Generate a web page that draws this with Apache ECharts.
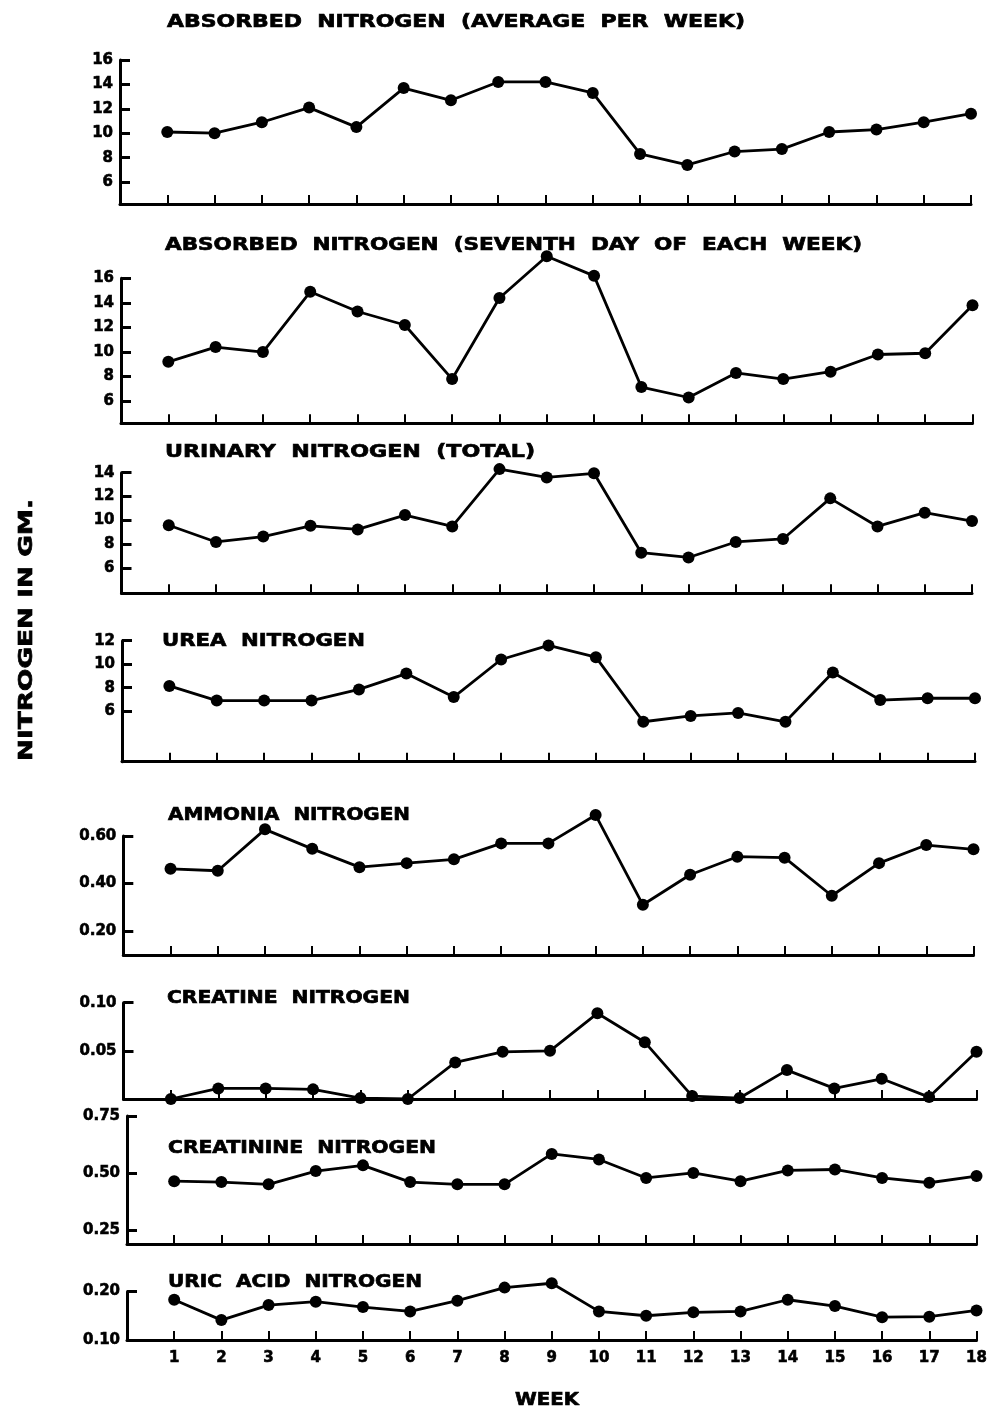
<!DOCTYPE html>
<html>
<head>
<meta charset="utf-8">
<script src="https://cdn.jsdelivr.net/npm/echarts@6/dist/echarts.min.js"></script>
<style>
  html, body { margin: 0; padding: 0; background: #fff; }
  #chart { width: 993px; height: 1414px; }
</style>
</head>
<body>
<div id="chart"></div>
<script>
// Weekly nitrogen balance, grams per day, weeks 1-18
const weeks = [1, 2, 3, 4, 5, 6, 7, 8, 9, 10, 11, 12, 13, 14, 15, 16, 17, 18];

const absorbedAvg   = [10.1, 10.0, 10.9, 12.1, 10.5, 13.7, 12.7, 14.2, 14.2, 13.3, 8.3, 7.4, 8.5, 8.7, 10.1, 10.3, 10.9, 11.6];
const absorbedDay7  = [9.2, 10.4, 10.0, 14.9, 13.3, 12.2, 7.8, 14.4, 17.8, 16.2, 7.15, 6.3, 8.3, 7.8, 8.4, 9.8, 9.9, 13.8];
const urinaryTotal  = [9.6, 8.2, 8.65, 9.55, 9.25, 10.45, 9.5, 14.3, 13.6, 13.95, 7.3, 6.9, 8.2, 8.45, 11.85, 9.5, 10.65, 9.95];
const ureaN         = [8.15, 6.9, 6.9, 6.9, 7.85, 9.2, 7.2, 10.4, 11.6, 10.6, 5.1, 5.6, 5.85, 5.1, 9.3, 6.95, 7.1, 7.1];
const ammoniaN      = [0.462, 0.454, 0.628, 0.546, 0.469, 0.486, 0.502, 0.569, 0.569, 0.688, 0.311, 0.437, 0.513, 0.509, 0.349, 0.486, 0.562, 0.544];
const creatineN     = [0.000, 0.011, 0.011, 0.010, 0.001, 0.000, 0.038, 0.049, 0.050, 0.089, 0.059, 0.003, 0.001, 0.030, 0.011, 0.021, 0.002, 0.049];
const creatinineN   = [0.465, 0.461, 0.451, 0.509, 0.534, 0.461, 0.451, 0.451, 0.584, 0.560, 0.479, 0.501, 0.465, 0.512, 0.516, 0.479, 0.458, 0.487];
const uricAcidN     = [0.183, 0.141, 0.172, 0.179, 0.168, 0.159, 0.181, 0.208, 0.217, 0.159, 0.150, 0.157, 0.159, 0.183, 0.170, 0.147, 0.148, 0.161];

// Panel headings
const titles = [
  'ABSORBED  NITROGEN  (AVERAGE  PER  WEEK)',
  'ABSORBED  NITROGEN  (SEVENTH  DAY  OF  EACH  WEEK)',
  'URINARY  NITROGEN  (TOTAL)',
  'UREA  NITROGEN',
  'AMMONIA  NITROGEN',
  'CREATINE  NITROGEN',
  'CREATININE  NITROGEN',
  'URIC  ACID  NITROGEN'
];

// Y tick labels per panel
const yTicks1 = [6, 8, 10, 12, 14, 16];
const yTicks2 = [6, 8, 10, 12, 14, 16];
const yTicks3 = [6, 8, 10, 12, 14];
const yTicks4 = [6, 8, 10, 12];
const yTicks5 = [0.20, 0.40, 0.60];
const yTicks6 = [0.05, 0.10];
const yTicks7 = [0.25, 0.50, 0.75];
const yTicks8 = [0.10, 0.20];

const yAxisTitle = 'NITROGEN IN GM.';
const xAxisTitle = 'WEEK';

const seriesData = [absorbedAvg, absorbedDay7, urinaryTotal, ureaN, ammoniaN, creatineN, creatinineN, uricAcidN];
const tickSets = [yTicks1, yTicks2, yTicks3, yTicks4, yTicks5, yTicks6, yTicks7, yTicks8];

// Layout of each panel: plot box in pixels, value range, heading box
const panels = [
  { left: 120,   right: 971,   top: 60,    bottom: 204,   min: 4.2,  max: 16,   dec: 0, tx: 167, tw: 578, ty: 22 },
  { left: 121,   right: 972.5, top: 278.3, bottom: 423.3, min: 4.2,  max: 16,   dec: 0, tx: 165, tw: 697, ty: 245 },
  { left: 121.5, right: 972,   top: 472.7, bottom: 593.3, min: 3.9,  max: 14,   dec: 0, tx: 165, tw: 370, ty: 452 },
  { left: 122,   right: 975,   top: 640.7, bottom: 761.7, min: 1.7,  max: 12,   dec: 0, tx: 162, tw: 203, ty: 641 },
  { left: 123.3, right: 973.5, top: 836,   bottom: 955,   min: 0.10, max: 0.60, dec: 2, tx: 168, tw: 242, ty: 815 },
  { left: 123.5, right: 976.5, top: 1002.7,bottom: 1099,  min: 0,    max: 0.10, dec: 2, tx: 167, tw: 243, ty: 998 },
  { left: 127,   right: 976.5, top: 1116,  bottom: 1244,  min: 0.19, max: 0.75, dec: 2, tx: 168, tw: 268, ty: 1148 },
  { left: 127,   right: 976.5, top: 1291.5,bottom: 1340,  min: 0.10, max: 0.20, dec: 2, tx: 168, tw: 254, ty: 1282 }
];

const FONT = '"DejaVu Sans", "Liberation Sans", sans-serif';
const measureCtx = document.createElement('canvas').getContext('2d');
function stretch(text, font, width) {
  measureCtx.font = font;
  return width / measureCtx.measureText(text).width;
}

const labelStyle = {
  color: '#000', fontFamily: FONT, fontWeight: 'bold', fontSize: 15,
  textBorderColor: '#000', textBorderWidth: 0.6
};

const grid = [], xAxis = [], yAxis = [], series = [], graphic = [];

panels.forEach((p, i) => {
  grid.push({
    left: p.left, top: p.top,
    width: p.right - p.left, height: p.bottom - p.top,
    containLabel: false, outerBoundsMode: 'none'
  });
  const last = i === panels.length - 1;
  xAxis.push({
    type: 'value', gridIndex: i, min: 0, max: 18,
    axisLine: { show: true, onZero: false, lineStyle: { color: '#000', width: 3 } },
    axisTick: { show: true, inside: true, length: 9, customValues: weeks, lineStyle: { color: '#000', width: 2 } },
    axisLabel: Object.assign({ show: last, customValues: weeks, margin: 11 }, labelStyle),
    splitLine: { show: false }
  });
  yAxis.push({
    type: 'value', gridIndex: i, min: p.min, max: p.max,
    axisLine: { show: true, onZero: false, lineStyle: { color: '#000', width: 3 } },
    axisTick: { show: true, inside: true, length: 10, customValues: tickSets[i], lineStyle: { color: '#000', width: 3 } },
    axisLabel: Object.assign({
      customValues: tickSets[i], margin: 7,
      formatter: v => v.toFixed(p.dec)
    }, labelStyle),
    splitLine: { show: false }
  });
  series.push({
    type: 'line', xAxisIndex: i, yAxisIndex: i, clip: false,
    data: weeks.map((w, k) => [w, seriesData[i][k]]),
    symbol: 'circle', symbolSize: 12,
    lineStyle: { color: '#000', width: 2.8 },
    itemStyle: { color: '#000' },
    emphasis: { disabled: true },
    animation: false
  });
  const tf = 'bold 18px ' + FONT;
  graphic.push({
    type: 'text', x: p.tx, y: p.ty, scaleX: stretch(titles[i], tf, p.tw),
    style: {
      text: titles[i], font: tf, fill: '#000', stroke: '#000', lineWidth: 0.7,
      textAlign: 'left', textVerticalAlign: 'middle'
    }
  });
});

const yf = 'bold 19px ' + FONT;
graphic.push({
  type: 'text', x: 27, y: 630, rotation: Math.PI / 2, scaleX: stretch(yAxisTitle, yf, 262),
  style: {
    text: yAxisTitle, font: yf, fill: '#000', stroke: '#000', lineWidth: 0.7,
    textAlign: 'center', textVerticalAlign: 'middle'
  }
});
const xf = 'bold 18px ' + FONT;
graphic.push({
  type: 'text', x: 547, y: 1400, scaleX: stretch(xAxisTitle, xf, 64),
  style: {
    text: xAxisTitle, font: xf, fill: '#000', stroke: '#000', lineWidth: 0.7,
    textAlign: 'center', textVerticalAlign: 'middle'
  }
});

const chart = echarts.init(document.getElementById('chart'), null, { renderer: 'canvas' });
chart.setOption({
  backgroundColor: '#fff',
  animation: false,
  grid, xAxis, yAxis, series, graphic
});
</script>
</body>
</html>
